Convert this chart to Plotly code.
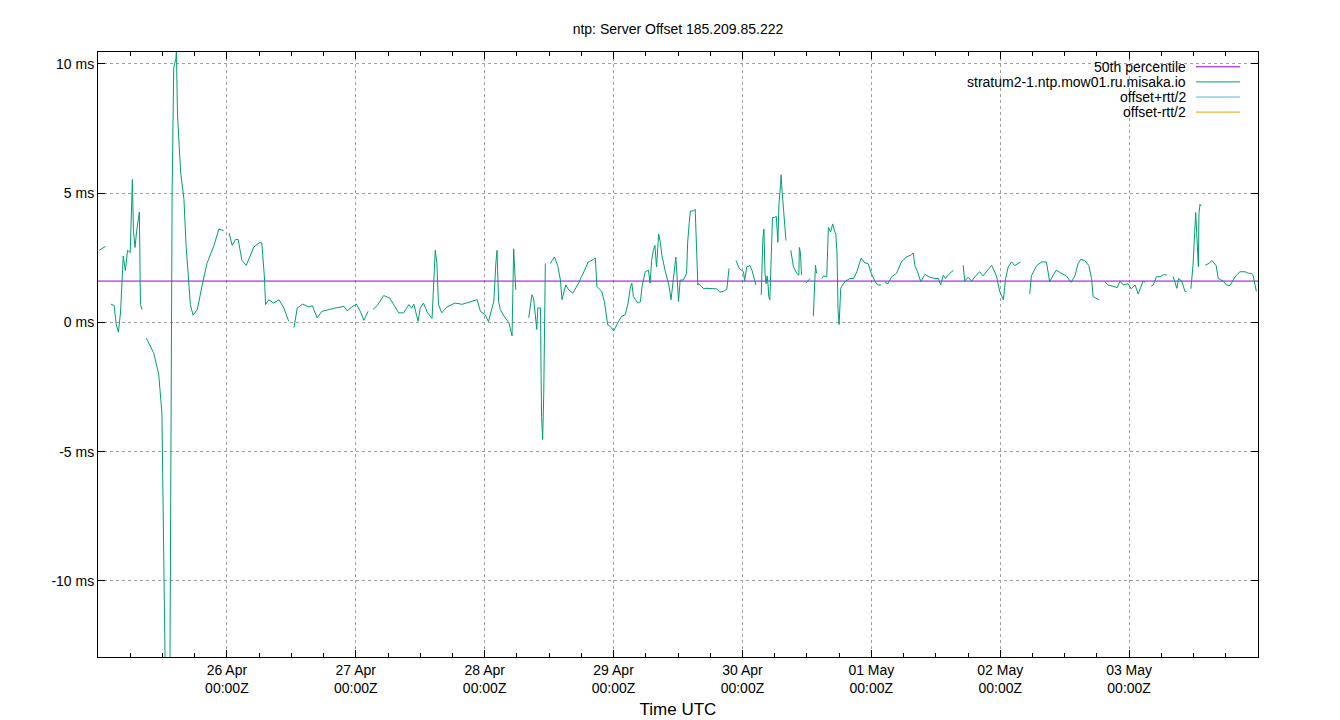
import plotly.graph_objects as go
from datetime import datetime, timedelta

START = datetime(2024, 4, 25, 0, 0)
hours = [0.2,1.4,None,
 2.4,3.0,3.4,3.8,4.2,4.5,4.7,5.1,5.5,6.0,6.4,6.6,6.9,7.2,7.5,7.7,7.8,7.9,8.2,None,
 9.0,9.7,10.4,11.3,11.9,12.3,12.5,13.4,13.6,13.8,14.1,14.5,14.6,14.8,15.1,15.4,16.0,16.4,16.8,17.2,17.7,18.5,19.4,20.3,21.6,22.5,23.4,None,
 24.4,25.0,25.6,26.1,26.8,27.6,29.0,30.0,30.5,31.0,31.2,31.8,32.7,33.7,34.6,35.5,None,
 36.5,37.1,38.1,39.3,39.9,40.8,41.7,43.0,44.2,45.8,46.4,47.3,48.1,48.9,49.5,50.3,None,
 51.2,52.0,53.2,54.3,56.0,56.9,57.9,58.4,58.8,59.6,60.0,60.6,61.3,62.2,62.8,63.1,63.4,64.0,65.0,66.5,67.8,69.0,70.6,71.2,72.1,72.7,73.7,74.1,74.3,74.6,74.9,75.8,76.5,77.1,77.2,77.4,77.6,77.8,None,
 78.8,None,
 80.2,80.8,81.1,81.4,81.7,81.9,82.4,82.5,82.6,82.8,83.0,83.2,83.3,None,
 84.2,85.0,85.6,86.1,86.4,87.1,87.5,88.4,89.5,91.3,92.3,92.6,92.9,93.8,94.3,94.9,95.6,96.0,96.8,97.5,98.2,98.7,99.1,99.4,99.7,100.5,101.0,101.3,101.9,102.5,102.8,103.1,103.4,103.7,104.0,104.4,104.7,105.0,105.6,105.9,106.3,106.7,107.1,107.6,107.7,108.1,108.4,109.0,109.6,109.8,110.1,110.3,110.9,111.2,111.5,111.7,111.8,112.1,112.8,113.2,114.3,115.2,115.8,116.5,117.1,117.5,None,
 118.8,119.4,120.2,120.4,120.8,121.4,121.8,122.5,None,
 123.5,123.6,123.8,124.0,124.2,124.4,124.6,124.8,124.9,125.1,125.3,125.6,125.9,126.3,126.6,126.8,127.1,127.2,127.3,127.6,127.8,128.1,None,
 129.0,129.5,130.1,130.5,130.6,130.8,131.0,None,
 131.8,132.6,None,
 133.2,133.4,133.6,133.8,None,
 134.8,135.1,135.7,135.9,136.0,136.4,136.8,137.2,137.4,137.6,137.8,138.0,138.3,138.5,139.1,140.0,140.7,141.3,142.1,142.8,143.4,144.0,144.7,145.2,145.8,None,
 146.5,147.1,147.8,148.7,149.6,150.5,151.5,151.8,152.1,152.6,153.2,154.0,154.9,155.8,156.5,156.9,157.4,157.8,158.4,159.3,None,
 161.1,161.4,162.0,162.7,163.4,164.2,164.8,165.5,166.4,167.3,167.9,168.6,169.0,169.5,170.1,170.7,171.3,171.8,None,
 172.7,None,
 173.5,173.8,174.8,175.7,176.6,177.2,177.8,178.4,179.4,180.3,181.2,181.9,182.5,183.0,183.7,184.5,185.0,185.3,185.7,186.4,None,
 187.5,188.0,189.0,189.8,190.3,190.9,191.8,192.4,193.1,193.7,194.6,195.0,None,
 196.1,196.5,197.1,197.8,198.4,199.0,None,
 200.2,200.9,201.2,201.8,202.4,202.7,None,
 203.5,203.9,204.4,204.7,204.9,205.0,205.2,205.4,None,
 206.2,207.0,207.4,208.2,208.6,209.2,209.5,210.1,210.8,211.7,212.6,213.6,214.2,214.8,215.1,215.7]
offset_ms = [2.79,2.94,None,
 0.71,0.65,-0.08,-0.38,0.4,1.72,2.57,2.0,2.79,2.7,5.53,3.55,2.9,3.55,4.1,4.27,2.53,0.69,0.5,None,
 -0.61,-0.9,-1.2,-2.0,-3.5,-10,-13.2,-13.2,-1,5,9.85,10.2,10.5,8.07,6.9,5.78,4.77,2.98,1.83,0.69,0.28,0.5,1.45,2.29,2.98,3.61,3.55,None,
 3.46,2.98,3.21,3.21,2.40,2.21,2.91,3.08,3.08,1.72,0.69,0.88,0.75,0.88,0.56,0.05,None,
 -0.2,0.56,0.71,0.6,0.65,0.18,0.43,0.5,0.56,0.62,0.45,0.6,0.71,0.4,0.08,0.43,None,
 0.5,0.65,1.04,0.95,0.37,0.37,0.69,0.55,0.71,0.05,0.55,0.75,0.4,0.15,2.79,2.3,0.69,0.37,0.6,0.75,0.7,0.79,0.88,0.43,0.3,0.03,0.81,2.34,2.79,0.81,0.5,0.18,0.0,-0.52,1.2,2.85,2.0,1.26,None,
 0.85,None,
 0.18,1.07,0.95,0.3,-0.27,0.56,0.56,-1.98,-3.64,-4.53,-2.75,0.56,2.28,None,
 2.28,2.53,2.2,1.64,0.88,1.45,1.3,1.13,1.52,2.34,2.44,2.5,1.39,1.2,0.8,-0.08,-0.2,-0.33,-0.01,0.24,0.3,0.75,1.32,1.52,1.0,0.75,0.8,1.39,1.96,2.02,1.52,2.40,2.79,2.98,2.15,3.42,3.10,2.60,2.0,1.8,1.45,0.88,1.6,2.53,2.2,0.81,1.64,1.64,1.90,3.10,3.87,4.31,4.31,4.38,2.6,1.45,1.5,1.45,1.3,1.32,1.32,1.3,1.17,1.2,1.3,2.09,None,
 2.4,2.09,1.96,1.6,2.15,2.2,2.0,1.45,None,
 1.07,2.1,3.23,3.61,1.9,1.5,1.8,1.39,1.0,0.88,2.3,4.06,4.06,4.1,3.10,4.6,5.33,5.71,5.3,4.50,4.06,3.17,None,
 2.79,2.15,1.9,1.83,2.9,2.7,1.83,None,
 1.52,1.7,None,
 0.24,1.3,2.21,1.9,None,
 1.7,1.8,1.77,2.72,3.68,3.5,3.81,3.5,3.4,2.72,0.5,-0.08,1.32,1.4,1.58,1.7,1.7,1.96,2.49,2.3,2.28,1.90,1.58,1.45,1.45,None,
 1.55,1.5,1.77,1.9,2.34,2.53,2.62,2.69,2.2,1.96,1.58,1.86,1.75,1.70,1.70,1.45,1.83,1.7,1.86,2.02,None,
 2.21,1.6,1.75,1.6,1.8,1.96,1.8,2.0,2.21,1.8,1.20,0.88,1.7,2.15,2.34,2.2,2.28,2.34,None,
 1.8,None,
 1.10,1.8,2.2,2.34,2.34,1.58,1.8,2.02,1.9,1.8,1.55,1.8,2.28,2.44,2.4,2.2,1.7,1.0,0.95,0.88,None,
 1.58,1.45,1.4,1.35,1.6,1.45,1.5,1.3,1.45,1.1,1.6,1.55,None,
 1.4,1.45,1.77,1.77,1.85,1.83,None,
 1.77,1.32,1.7,1.6,1.20,1.2,None,
 1.3,2.21,4.25,2.6,2.15,4.2,4.57,4.5,None,
 2.21,2.3,2.40,2.2,1.7,1.65,1.6,1.45,1.43,1.75,1.96,1.96,1.9,1.9,1.8,1.20]
median_ms = 1.6
range_hours = [0, 216]
day_ticks = [1, 2, 3, 4, 5, 6, 7, 8]
day_labels = ["26 Apr", "27 Apr", "28 Apr", "29 Apr", "30 Apr", "01 May", "02 May", "03 May"]
y_ticks = [-10, -5, 0, 5, 10]
y_labels = ["-10 ms", "-5 ms", "0 ms", "5 ms", "10 ms"]
legend_names = ["50th percentile", "stratum2-1.ntp.mow01.ru.misaka.io", "offset+rtt/2", "offset-rtt/2"]
legend_colors = ["#9400d3", "#009e73", "#56b4e9", "#e69f00"]

def t(h):
    return None if h is None else START + timedelta(hours=h)

xs = [t(h) for h in hours]
fig = go.Figure()
fig.add_trace(go.Scatter(x=[t(range_hours[0]), t(range_hours[1])], y=[median_ms, median_ms],
                         mode="lines", line=dict(color=legend_colors[0], width=1), showlegend=False))
fig.add_trace(go.Scatter(x=xs, y=offset_ms, mode="lines", connectgaps=False,
                         line=dict(color=legend_colors[1], width=1), showlegend=False))

W, H = 1340, 720
L, R, T, B = 90, 1250, 44, 657
def px(x): return (x - L) / (R - L)
def py(y): return (B - y) / (B - T)

shapes = [dict(type="rect", xref="paper", yref="paper", x0=px(880), x1=1, y0=py(113), y1=1,
               fillcolor="white", line=dict(width=0), layer="below")]
annotations = []
for i, (n, c) in enumerate(zip(legend_names, legend_colors)):
    yy = 59 + i * 15.3
    annotations.append(dict(text=n, xref="paper", yref="paper", x=px(1180), y=py(yy),
                            xanchor="right", yanchor="middle", showarrow=False,
                            font=dict(size=14, color="black")))
    shapes.append(dict(type="line", xref="paper", yref="paper", x0=px(1188), x1=px(1232),
                       y0=py(yy), y1=py(yy), line=dict(color=c, width=1)))

fig.update_layout(
    width=W, height=H, margin=dict(l=L, r=W - R, t=T, b=H - B),
    paper_bgcolor="white", plot_bgcolor="white",
    font=dict(family="Liberation Sans, Arial", size=14, color="black"),
    title=dict(text="ntp: Server Offset 185.209.85.222", x=0.5, xref="paper", y=1 - 21 / H,
               yanchor="middle", font=dict(size=14)),
    shapes=shapes, annotations=annotations, showlegend=False,
    xaxis=dict(range=[t(range_hours[0]), t(range_hours[1])],
               tickvals=[t(d * 24) for d in day_ticks],
               ticktext=[f"{d}<br>00:00Z" for d in day_labels],
               ticks="inside", ticklen=7, tickcolor="black", mirror="allticks",
               showline=True, linecolor="black", linewidth=1,
               showgrid=True, gridcolor="#a0a0a0", griddash="dot", gridwidth=1,
               minor=dict(dtick=6 * 3600 * 1000, ticks="inside", ticklen=4, tickcolor="black", showgrid=False),
               title=dict(text="Time UTC", standoff=8), zeroline=False),
    yaxis=dict(range=[-12.94, 10.46], tickvals=y_ticks, ticktext=y_labels,
               ticks="inside", ticklen=7, tickcolor="black", mirror="allticks",
               showline=True, linecolor="black", linewidth=1,
               showgrid=True, gridcolor="#a0a0a0", griddash="dot", gridwidth=1, zeroline=False),
)
fig.write_html("out.html")
